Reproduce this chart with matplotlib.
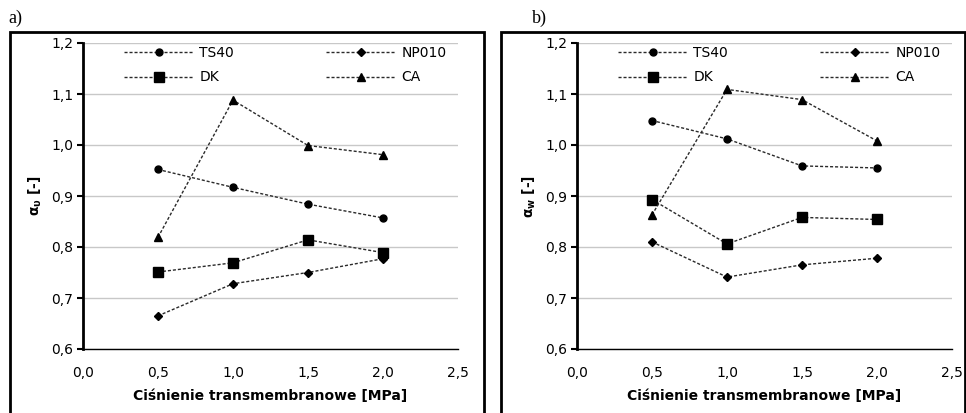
import matplotlib.pyplot as plt
from matplotlib.patches import Rectangle
from matplotlib.ticker import FuncFormatter

# pressure [MPa]
pressure = [0.5, 1.0, 1.5, 2.0]

# panel a) alpha_v
a_ts40 = [0.952, 0.917, 0.884, 0.857]
a_np010 = [0.665, 0.728, 0.750, 0.777]
a_dk = [0.751, 0.769, 0.814, 0.789]
a_ca = [0.819, 1.088, 0.999, 0.981]

# panel b) alpha_w
b_ts40 = [1.048, 1.012, 0.959, 0.955]
b_np010 = [0.810, 0.741, 0.765, 0.778]
b_dk = [0.893, 0.806, 0.858, 0.854]
b_ca = [0.863, 1.109, 1.089, 1.008]

plt.rcParams['font.family'] = ['DejaVu Sans']

W, H = 966, 413
fig = plt.figure(figsize=(W / 100, H / 100), dpi=100)

comma = FuncFormatter(lambda v, p: f"{v:.1f}".replace('.', ','))
line_kw = dict(color='#2a2a2a', lw=1.0, ls=(0, (2.2, 1.4)), mfc='black', mec='black')


def panel(x0, series, ylabel):
    ax = fig.add_axes([x0 / W, (H - 349) / H, 375 / W, 306 / H])
    ts40, np010, dk, ca = series
    h1, = ax.plot(pressure, ts40, marker='o', ms=5, label='TS40', **line_kw)
    h2, = ax.plot(pressure, np010, marker='D', ms=4.5, label='NP010', **line_kw)
    h3, = ax.plot(pressure, dk, marker='s', ms=7.5, label='DK', **line_kw)
    h4, = ax.plot(pressure, ca, marker='^', ms=6, label='CA', **line_kw)
    ax.set_xlim(0, 2.5)
    ax.set_ylim(0.6, 1.2)
    ax.set_xticks([0, 0.5, 1.0, 1.5, 2.0, 2.5])
    ax.set_yticks([0.6, 0.7, 0.8, 0.9, 1.0, 1.1, 1.2])
    ax.xaxis.set_major_formatter(comma)
    ax.yaxis.set_major_formatter(comma)
    ax.grid(axis='y', color='#c8c8c8', lw=1.0)
    ax.set_axisbelow(True)
    for s in ['top', 'right']:
        ax.spines[s].set_visible(False)
    ax.spines['left'].set_linewidth(2.0)
    ax.spines['bottom'].set_linewidth(1.0)
    ax.tick_params(axis='x', length=0, pad=12, labelsize=10)
    ax.tick_params(axis='y', length=4, width=1.5, direction='out', pad=3, labelsize=10)
    ax.set_xlabel('Ciśnienie transmembranowe [MPa]', fontsize=10, fontweight='bold', labelpad=7)
    ax.set_ylabel(ylabel, fontsize=10, fontweight='bold', labelpad=5)
    # legend fills by column, so order gives rows TS40/NP010 and DK/CA
    ax.legend([h1, h3, h2, h4], ['TS40', 'DK', 'NP010', 'CA'],
              loc='upper left', bbox_to_anchor=(0.11, 0.99), ncol=2, frameon=False,
              fontsize=10, handlelength=5.0, handletextpad=0.4, columnspacing=6.65,
              labelspacing=0.75, borderpad=0, borderaxespad=0, numpoints=1)
    return ax


panel(83, (a_ts40, a_np010, a_dk, a_ca), r'$\mathbf{\alpha_{\upsilon}}$ [-]')
panel(577, (b_ts40, b_np010, b_dk, b_ca), r'$\mathbf{\alpha_{w}}$ [-]')

# chart-area frames
fig.patches.append(Rectangle((10 / W, -0.05), 474 / W, (H - 32) / H + 0.05,
                             transform=fig.transFigure, fill=False, ec='black', lw=2))
fig.patches.append(Rectangle((501 / W, -0.05), 464 / W, (H - 32) / H + 0.05,
                             transform=fig.transFigure, fill=False, ec='black', lw=2))

fig.text(8 / W, 1 - 18 / H, 'a)', family='Liberation Serif', fontsize=13, va='center')
fig.text(532 / W, 1 - 18 / H, 'b)', family='Liberation Serif', fontsize=13, va='center')

fig.savefig('out.png', dpi=100)
